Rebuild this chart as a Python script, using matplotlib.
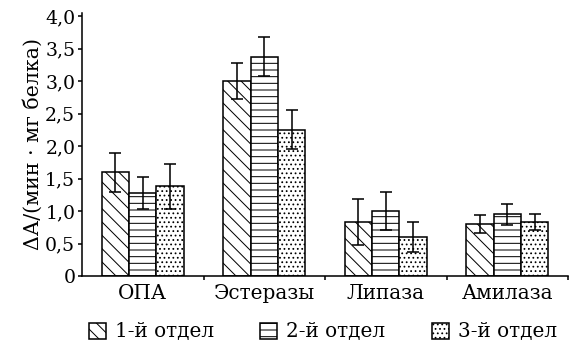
import numpy as np
import matplotlib
matplotlib.use("Agg")
import matplotlib.pyplot as plt

plt.rcParams['font.family'] = ['DejaVu Serif']
plt.rcParams['hatch.linewidth'] = 0.9

# activity by enzyme group for three gut sections
categories = ["ОПА", "Эстеразы", "Липаза", "Амилаза"]
series_names = ["1-й отдел", "2-й отдел", "3-й отдел"]
values = [
    [1.60, 3.00, 0.83, 0.80],
    [1.28, 3.37, 1.00, 0.95],
    [1.38, 2.25, 0.60, 0.83],
]
errors = [
    [0.30, 0.28, 0.36, 0.14],
    [0.25, 0.30, 0.29, 0.16],
    [0.35, 0.30, 0.23, 0.12],
]
hatches = ['\\\\', '--', '...']
yticks = [0, 0.5, 1.0, 1.5, 2.0, 2.5, 3.0, 3.5, 4.0]

DPI = 80
fig = plt.figure(figsize=(569 / DPI, 349 / DPI), dpi=DPI)
ax = fig.add_axes([82 / 569, 73 / 349, 486 / 569, 263.25 / 349])

x = np.arange(len(categories))
width = 0.225
for i, (vals, errs, hatch, name) in enumerate(zip(values, errors, hatches, series_names)):
    pos = x + (i - 1) * width
    ax.bar(pos, vals, width, color='white', edgecolor='black', linewidth=1.4,
           hatch=hatch, label=name)
    ax.errorbar(pos, vals, yerr=errs, fmt='none', ecolor='black',
                elinewidth=1.4, capsize=5, capthick=1.4)

ax.set_xlim(-0.5, 3.5)
ax.set_ylim(0, 4.05)

ax.spines['top'].set_visible(False)
ax.spines['right'].set_visible(False)
for s in ('left', 'bottom'):
    ax.spines[s].set_linewidth(1.4)

ax.set_yticks(yticks)
ax.set_yticklabels(["0" if v == 0 else f"{v:.1f}".replace('.', ',') for v in yticks])
ax.tick_params(axis='y', direction='out', length=4, width=1.4, labelsize=17, pad=2)

# boundary ticks between groups, labels centred on groups
ax.set_xticks([0.5, 1.5, 2.5, 3.5])
ax.set_xticklabels([])
ax.tick_params(axis='x', which='major', direction='out', length=4, width=1.4)
ax.set_xticks(x, minor=True)
ax.set_xticklabels(categories, minor=True)
ax.tick_params(axis='x', which='minor', length=0, labelsize=18, pad=7)

ax.set_ylabel("ΔА/(мин · мг белка)", fontsize=18.5, labelpad=2)

fig.legend(loc='center', bbox_to_anchor=(323 / 569, 1 - 332 / 349), ncol=3,
           frameon=False, fontsize=18, handlelength=0.85, handleheight=0.85,
           handletextpad=0.45, columnspacing=2.3)

fig.savefig("out.png", dpi=DPI)
